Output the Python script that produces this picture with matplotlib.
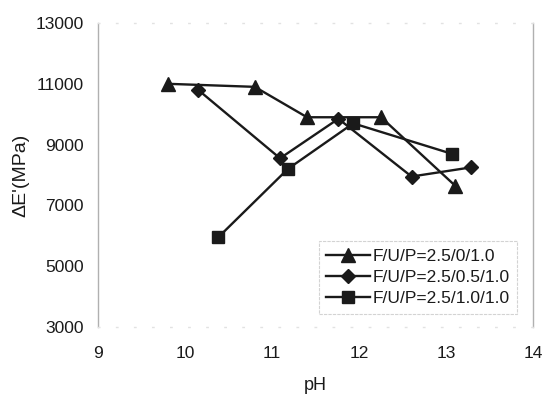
import matplotlib
matplotlib.use("Agg")
import matplotlib.pyplot as plt

plt.rcParams['font.family'] = ['Liberation Sans', 'DejaVu Sans']

# pH values and storage-modulus change for each F/U/P molar ratio
ph_a = [9.80, 10.80, 11.40, 12.25, 13.10]
de_a = [11000, 10900, 9900, 9900, 7650]

ph_b = [10.15, 11.09, 11.76, 12.60, 13.28]
de_b = [10800, 8550, 9850, 7950, 8250]

ph_c = [10.38, 11.18, 11.93, 13.06]
de_c = [5950, 8200, 9700, 8700]

labels = ["F/U/P=2.5/0/1.0", "F/U/P=2.5/0.5/1.0", "F/U/P=2.5/1.0/1.0"]
xticks = [9, 10, 11, 12, 13, 14]
yticks = [3000, 5000, 7000, 9000, 11000, 13000]

fig = plt.figure(figsize=(5.43, 3.94), dpi=100)
ax = fig.add_axes([0.1805, 0.170, 0.802, 0.7716])

line_kw = dict(color="#1a1a1a", linewidth=1.7, markeredgecolor="#1a1a1a",
               markerfacecolor="#1a1a1a")
ax.plot(ph_a, de_a, marker="^", markersize=10, label=labels[0], **line_kw)
ax.plot(ph_b, de_b, marker="D", markersize=7.5, label=labels[1], **line_kw)
ax.plot(ph_c, de_c, marker="s", markersize=8.5, label=labels[2], **line_kw)

ax.set_xlim(9, 14)
ax.set_ylim(3000, 13000)
ax.set_xticks(xticks)
ax.set_yticks(yticks)
ax.tick_params(axis="both", length=0, labelsize=12.5, colors="#1a1a1a")
ax.tick_params(axis="x", pad=14)
ax.tick_params(axis="y", pad=10)

for side in ["left", "right"]:
    ax.spines[side].set_color("#b0b0b0")
    ax.spines[side].set_linestyle((0, (3, 1)))
    ax.spines[side].set_linewidth(1.0)
for side in ["top", "bottom"]:
    ax.spines[side].set_color("#e2e2e2")
    ax.spines[side].set_linestyle((0, (1, 12)))
    ax.spines[side].set_linewidth(1.0)

ax.set_xlabel("pH", fontsize=13, color="#1a1a1a", labelpad=11)
ax.set_ylabel("ΔE'(MPa)", fontsize=14, color="#1a1a1a", labelpad=5)

leg = ax.legend(loc="lower right", bbox_to_anchor=(0.963, 0.043), fontsize=12.5,
                frameon=True, fancybox=False, handlelength=2.5,
                borderpad=0.45, labelspacing=0.35, handletextpad=0.15,
                borderaxespad=0.0)
frame = leg.get_frame()
frame.set_edgecolor("#c8c8c8")
frame.set_linewidth(0.8)
frame.set_linestyle((0, (3, 1)))
for t in leg.get_texts():
    t.set_color("#1a1a1a")

fig.savefig("out.png", dpi=100)
